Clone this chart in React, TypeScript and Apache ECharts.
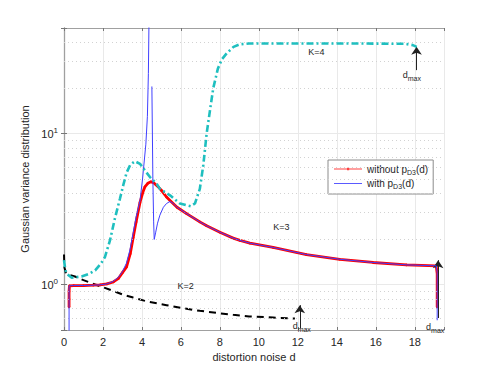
import React, { useEffect, useRef } from "react";
import * as echarts from "echarts";

// ---- data ----
const withoutX = [0.26, 0.26, 0.26, 0.28, 0.5, 1.0, 1.5, 1.85, 2.2, 2.53, 2.8, 3.0, 3.21, 3.4, 3.55, 3.7, 3.9, 4.05, 4.15, 4.3, 4.46, 4.6, 4.84, 5.0, 5.26, 5.44, 5.8, 6.29, 6.97, 7.32, 8.0, 8.68, 9.03, 9.54, 10.73, 12.44, 14.15, 15.86, 17.57, 19.1, 19.15, 19.15];
const withoutY = [0.71, 0.8, 0.9, 0.98, 0.985, 0.985, 0.99, 0.995, 1.01, 1.04, 1.1, 1.2, 1.31, 1.6, 2.05, 2.6, 3.5, 4.1, 4.43, 4.68, 4.79, 4.72, 4.43, 4.2, 3.8, 3.6, 3.25, 2.95, 2.6, 2.45, 2.22, 2.03, 1.96, 1.88, 1.76, 1.58, 1.47, 1.4, 1.35, 1.33, 1.18, 0.71];

const withX = [0.26, 0.26, 0.5, 1.0, 1.5, 1.85, 2.2, 2.53, 2.8, 3.0, 3.2, 3.38, 3.55, 3.7, 3.9, 4.03, 4.2, 4.28, 4.33, 4.37, 4.44, 4.51, 4.56, 4.6, 4.63, 4.7, 4.8, 4.92, 5.1, 5.26, 5.44, 5.6, 5.8, 6.29, 6.97, 7.32, 8.0, 8.68, 9.03, 9.54, 10.73, 12.44, 14.15, 15.86, 17.57, 19.1, 19.15, 19.15];
const withY = [0.45, 0.98, 0.985, 0.985, 0.99, 0.995, 1.01, 1.05, 1.12, 1.22, 1.38, 1.69, 2.2, 2.8, 3.6, 5.0, 8.5, 13, 25, 70, null, 20.5, 5, 2.6, 1.99, 2.2, 2.55, 2.88, 3.25, 3.44, 3.55, 3.45, 3.25, 2.95, 2.6, 2.45, 2.22, 2.03, 1.96, 1.88, 1.76, 1.58, 1.47, 1.4, 1.35, 1.33, 1.2, 0.58];

const k4X = [0, 0.07, 0.14, 0.4, 0.9, 1.3, 1.6, 1.9, 2.1, 2.36, 2.6, 2.87, 3.05, 3.21, 3.4, 3.64, 3.9, 4.15, 4.41, 4.75, 4.92, 5.44, 5.95, 6.29, 6.5, 6.72, 6.97, 7.15, 7.32, 7.5, 7.66, 7.9, 8.1, 8.35, 8.7, 9.03, 9.5, 12, 15, 17.5, 17.9, 18.1];
const k4Y = [1.45, 1.25, 1.18, 1.11, 1.13, 1.18, 1.24, 1.38, 1.52, 1.96, 2.7, 3.7, 4.6, 5.5, 6.2, 6.55, 6.3, 5.7, 5.15, 4.66, 4.3, 3.9, 3.44, 3.35, 3.3, 3.44, 4.3, 6.2, 10, 14.5, 20, 27, 31, 34, 37.5, 39, 39.5, 39.5, 39.5, 39.3, 38.5, 37.5];

const k2X = [0, 0.02, 0.1, 0.56, 1.0, 1.6, 2.0, 2.5, 3.0, 3.55, 4.3, 5.26, 6.0, 6.97, 8.0, 8.68, 9.5, 10.73, 11.85];
const k2Y = [1.58, 1.3, 1.18, 1.13, 1.07, 1.0, 0.96, 0.91, 0.86, 0.82, 0.77, 0.73, 0.7, 0.67, 0.645, 0.63, 0.615, 0.605, 0.595];

const xTicks = [0, 2, 4, 6, 8, 10, 12, 14, 16, 18];
const minorY = [0.6, 0.7, 0.8, 0.9, 2, 3, 4, 5, 6, 7, 8, 9, 20, 30, 40];

// annotations: [x, y] in data space
const arrows = [
  [[18.09, 26.3], [18.09, 37.5]],
  [[12.1, 0.513], [12.1, 0.73]],
  [[19.2, 0.6], [19.2, 1.45]],
];
const texts = [
  { x: 12.95, y: 34.7, t: "K=4" },
  { x: 11.16, y: 2.41, t: "K=3" },
  { x: 6.24, y: 0.974, t: "K=2" },
  { x: 17.85, y: 24.5, t: "d{sub|max}" },
  { x: 12.2, y: 0.535, t: "d{sub|max}" },
  { x: 19.05, y: 0.525, t: "d{sub|max}" },
];

const zip = (xs: number[], ys: (number | null)[]) => xs.map((x, i) => [x, ys[i]]);

const FONT = "Liberation Sans, Arial, Helvetica, sans-serif";
const TXT = "#262626";
const GRID = "#e9e9e9";
const AXIS = "#a0a0a0";

const ICON_LINE_DOT = "path://M0,3.5 L28,3.5 L28,4.5 L0,4.5 Z M13,2.8 L15.2,2.8 L15.2,5.2 L13,5.2 Z";
const ICON_LINE = "path://M0,3.5 L28,3.5 L28,4.5 L0,4.5 Z";

export default function App() {
  const ref = useRef<HTMLDivElement>(null);
  useEffect(() => {
    if (!ref.current) return;
    const chart = echarts.init(ref.current, null, { renderer: "svg" });
    const subRich = {
      sub: { fontSize: 7, fontFamily: FONT, color: TXT, padding: [7, 0, 0, 0] },
    };
    const option: any = {
      animation: false,
      backgroundColor: "#ffffff",
      textStyle: { fontFamily: FONT },
      grid: { left: 64, right: 47, top: 28, bottom: 41, containLabel: false },
      legend: {
        data: [
          { name: "without", icon: ICON_LINE_DOT, itemStyle: { color: "#ff4040" } },
          { name: "with", icon: ICON_LINE, itemStyle: { color: "#5a5aff" } },
        ],
        orient: "vertical",
        left: 328,
        top: 160,
        itemWidth: 28,
        itemHeight: 8,
        itemGap: 3,
        padding: [4, 5, 4, 6],
        borderColor: "#8c8c8c",
        borderWidth: 1,
        backgroundColor: "#fff",
        formatter: (n: string) => (n === "without" ? "without p{sub|D3}(d)" : "with p{sub|D3}(d)"),
        textStyle: {
          fontSize: 10,
          color: TXT,
          fontFamily: FONT,
          rich: { sub: { fontSize: 7, color: TXT, fontFamily: FONT, padding: [6, 0, 0, 0] } },
        },
      },
      xAxis: [
        {
          type: "value",
          min: 0,
          max: 19.5,
          interval: 2,
          name: "distortion noise d",
          nameLocation: "middle",
          nameGap: 19,
          nameTextStyle: { fontSize: 11, color: TXT, fontFamily: FONT },
          axisLine: { show: true, lineStyle: { color: AXIS, width: 1.2 } },
          axisTick: { show: true, inside: true, length: 3, lineStyle: { color: "#777" } },
          axisLabel: {
            fontSize: 11,
            color: TXT,
            margin: 6,
            formatter: (v: number) => (xTicks.includes(v) ? String(v) : ""),
          },
          splitLine: { show: true, lineStyle: { color: GRID, width: 1 } },
        },
        {
          type: "value",
          position: "top",
          min: 0,
          max: 19.5,
          interval: 2,
          axisLine: { show: true, lineStyle: { color: AXIS, width: 1 } },
          axisTick: { show: true, inside: true, length: 3, lineStyle: { color: "#777" } },
          axisLabel: { show: false },
          splitLine: { show: false },
        },
      ],
      yAxis: [
        {
          type: "log",
          logBase: 10,
          min: 0.5,
          max: 50,
          name: "Gaussian variance distribution",
          nameLocation: "middle",
          nameGap: 26,
          nameTextStyle: { fontSize: 11, color: TXT, fontFamily: FONT },
          axisLine: { show: true, lineStyle: { color: AXIS, width: 1.3 } },
          axisTick: { show: true, inside: true, length: 3, lineStyle: { color: "#777" } },
          axisLabel: {
            color: TXT,
            fontSize: 11,
            margin: 6,
            formatter: (v: number) => {
              const l = Math.log10(v);
              const e = Math.round(l);
              if (Math.abs(l - e) > 1e-6 || (e !== 0 && e !== 1)) return "";
              return "10{sup|" + e + "}";
            },
            rich: { sup: { fontSize: 8, color: TXT, padding: [0, 0, 7, 0] } },
          },
          splitLine: { show: true, lineStyle: { color: GRID, width: 1 } },
        },
        {
          type: "log",
          logBase: 10,
          min: 0.5,
          max: 50,
          position: "right",
          axisLine: { show: true, lineStyle: { color: AXIS, width: 1 } },
          axisTick: { show: true, inside: true, length: 3, lineStyle: { color: "#777" } },
          axisLabel: { show: false },
          splitLine: { show: false },
        },
      ],
      series: [
        {
          name: "minor",
          type: "line",
          data: [],
          z: 1,
          silent: true,
          markLine: {
            silent: true,
            symbol: ["none", "none"],
            label: { show: false },
            lineStyle: { color: "#d2d2d2", type: [1, 3], width: 1 },
            data: minorY.map((v) => ({ yAxis: v })),
          },
        },
        {
          name: "K2",
          type: "line",
          data: zip(k2X, k2Y),
          showSymbol: false,
          symbol: "none",
          lineStyle: { color: "#000", width: 2, type: [7, 5] },
          z: 3,
        },
        {
          name: "without",
          type: "line",
          data: zip(withoutX, withoutY),
          symbol: "circle",
          symbolSize: 2.5,
          showSymbol: true,
          itemStyle: { color: "#ff0000" },
          lineStyle: { color: "#ff0000", width: 2.8 },
          z: 4,
        },
        {
          name: "with",
          type: "line",
          data: zip(withX, withY),
          symbol: "none",
          connectNulls: false,
          itemStyle: { color: "#4040ff" },
          lineStyle: { color: "#4040ff", width: 1 },
          z: 5,
        },
        {
          name: "K4",
          type: "line",
          data: zip(k4X, k4Y),
          symbol: "none",
          lineStyle: { color: "#1fbfbf", width: 2.6, type: [7, 3, 2, 3] },
          z: 6,
        },
        {
          name: "annot",
          type: "scatter",
          data: [],
          z: 7,
          silent: true,
          markLine: {
            silent: true,
            symbol: ["none", "arrow"],
            symbolSize: 8,
            label: { show: false },
            lineStyle: { color: "#222", width: 1, type: "solid" },
            itemStyle: { color: "#000" },
            data: arrows.map((a) => [{ coord: a[0] }, { coord: a[1] }]),
          },
          markPoint: {
            silent: true,
            symbol: "circle",
            symbolSize: 0,
            data: texts.map((t) => ({
              coord: [t.x, t.y],
              label: {
                show: true,
                position: "inside",
                formatter: t.t,
                fontSize: 9,
                color: TXT,
                fontFamily: FONT,
                rich: subRich,
              },
            })),
          },
        },
      ],
    };
    chart.setOption(option);
    return () => chart.dispose();
  }, []);
  return <div ref={ref} style={{ width: 491, height: 371, position: "absolute", left: 0, top: 0 }} />;
}
